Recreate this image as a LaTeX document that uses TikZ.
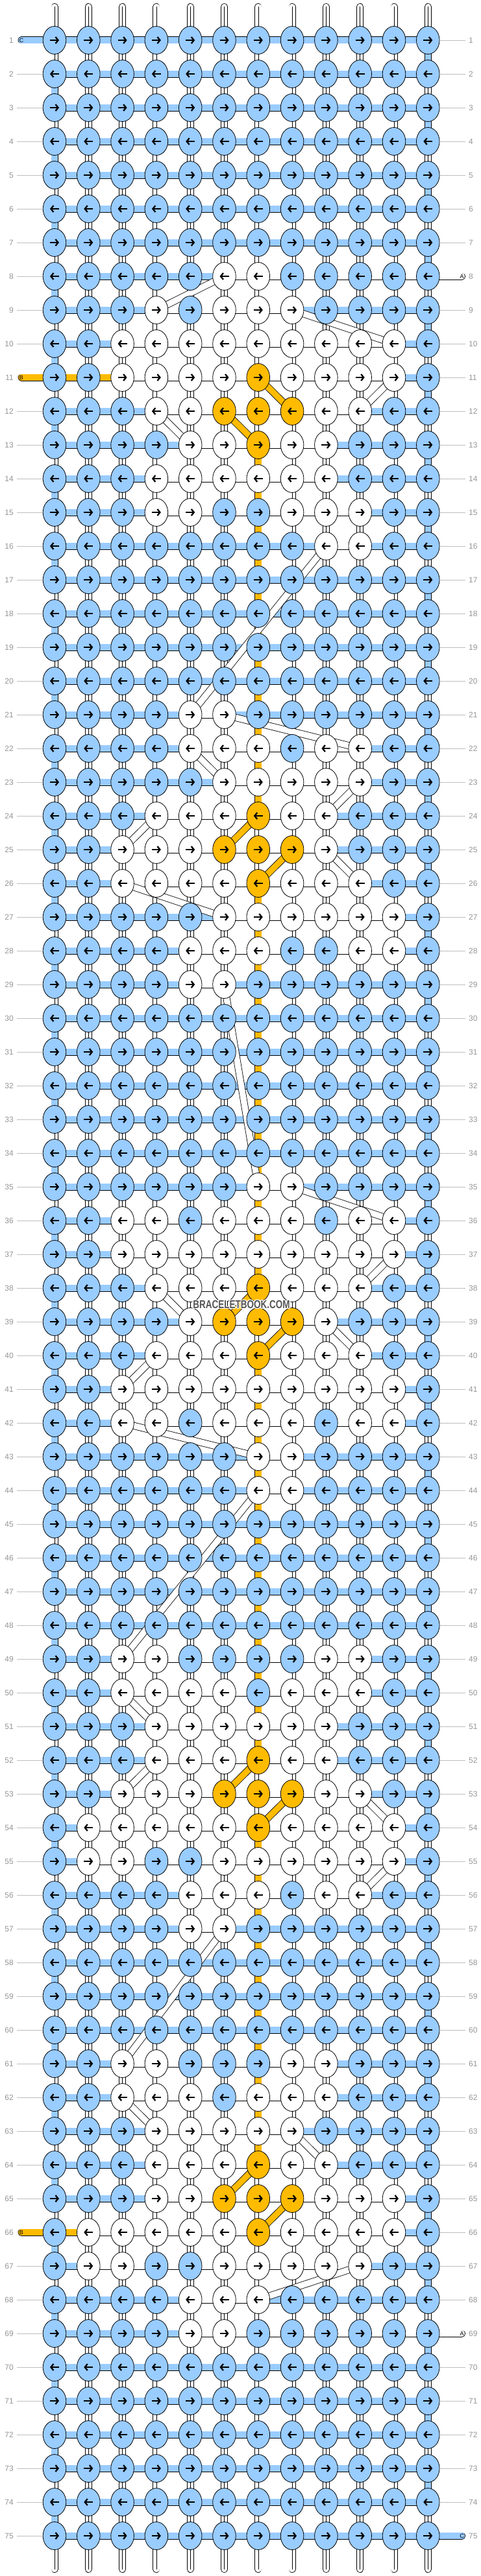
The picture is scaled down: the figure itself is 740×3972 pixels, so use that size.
\documentclass[tikz,border=0pt]{standalone}
\usepackage{fontspec}
\setmainfont{Liberation Sans}
\usepackage{xstring}
\usetikzlibrary{shapes.geometric,arrows.meta}
\definecolor{cb}{RGB}{153,204,255}
\definecolor{cy}{RGB}{255,187,0}
\definecolor{cw}{RGB}{255,255,255}
\definecolor{labgray}{RGB}{150,150,150}
\definecolor{linegray}{RGB}{190,190,190}
\definecolor{wmgray}{RGB}{85,85,85}
\pgfdeclarelayer{bg}
\pgfdeclarelayer{strings}
\pgfdeclarelayer{bars}
\pgfdeclarelayer{bands}
\pgfsetlayers{bg,strings,bars,bands,main}
\begin{document}
\begin{tikzpicture}[x=1pt,y=-1pt,
  knot/.style={ellipse,draw=black,line width=0.8pt,minimum width=35.6pt,minimum height=43pt,inner sep=0pt},
  strand/.style={line width=0.8pt,double distance=9.4pt},
  arr/.style={line width=2.3pt,-{Straight Barb[length=4pt,width=10pt]}},
  rowlab/.style={text=labgray,font=\fontsize{12}{12}\selectfont,inner sep=2pt},
  labline/.style={draw=linegray,line width=0.9pt},
  endlab/.style={font=\fontsize{9}{9}\selectfont,inner sep=0pt},
  wm/.style={font=\bfseries\fontsize{13.5}{13.5}\selectfont,inner sep=0pt}]
\begin{pgfonlayer}{bg}
\fill[white] (0,0) rectangle (740,3972);
\end{pgfonlayer}
\useasboundingbox (0,0) rectangle (740,3972);

% ---------- knots, arrows, horizontal bars, row labels ----------
\foreach \r/\row/\smin/\smax in {
1/bbbbbbbbbbbb/0/0, 2/bbbbbbbbbbbb/0/0, 3/bbbbbbbbbbbb/0/0, 4/bbbbbbbbbbbb/0/0,
5/bbbbbbbbbbbb/0/0, 6/bbbbbbbbbbbb/0/0, 7/bbbbbbbbbbbb/0/0,
8/bbbbbwwbbbbb/6/13, 9/bbbwbwwwbbbb/4/8, 10/bbwwwwwwwwwb/3/11, 11/bbwwwwywwwwb/3/11,
12/bbbwwyyywwbb/4/10, 13/bbbbwwywwbbb/5/9, 14/bbbwwwwwwbbb/4/9, 15/bbbwwbbwwwbb/4/10,
16/bbbbbbbbwwbb/9/10, 17/bbbbbbbbbbbb/0/0, 18/bbbbbbbbbbbb/0/0, 19/bbbbbbbbbbbb/0/0,
20/bbbbbbbbbbbb/0/0, 21/bbbbwwbbbbbb/5/6, 22/bbbbwwwbwwbb/5/10, 23/bbbbbwwwwwbb/6/10,
24/bbbwwwywwbbb/4/9, 25/bbwwwyyywbbb/3/9, 26/bbwwwwywwwbb/3/10, 27/bbbbbwwwwwwb/6/11,
28/bbbbwwwbbwwb/5/11, 29/bbbbwwbbbbbb/5/6, 30/bbbbbbbbbbbb/0/0, 31/bbbbbbbbbbbb/0/0,
32/bbbbbbbbbbbb/0/0, 33/bbbbbbbbbbbb/0/0, 34/bbbbbbbbbbbb/0/0, 35/bbbbbbwwbbbb/7/8,
36/bbwwbwwwbwwb/3/11, 37/bbwwwwwwwwwb/3/11, 38/bbbwwwywwwbb/4/10, 39/bbbbwyyywbbb/5/9,
40/bbbwwwywwwbb/4/10, 41/bbwwwwwwwwwb/3/11, 42/bbwwbwwwbwwb/3/11, 43/bbbbbbwwbbbb/7/8,
44/bbbbbbwwbbbb/7/8, 45/bbbbbbbbbbbb/0/0, 46/bbbbbbbbbbbb/0/0, 47/bbbbbbbbbbbb/0/0,
48/bbbbbbbbbbbb/0/0, 49/bbwwbbbbwwbb/3/10, 50/bbwwwwbwwwbb/3/10, 51/bbbwwwwwwbbb/4/9,
52/bbbwwwywwbbb/4/9, 53/bbwwwyyywwbb/3/10, 54/bwwwwwywwwwb/2/11, 55/bwwbbwwwwwwb/2/11,
56/bbbbwwwbwwbb/5/10, 57/bbbbwwbbbbbb/5/6, 58/bbbbbbbbbbbb/0/0, 59/bbbbbbbbbbbb/0/0,
60/bbbbbbbbbbbb/0/0, 61/bbwwbbbwwbbb/3/9, 62/bbwwwbwwwbbb/3/9, 63/bbbwwwwwbbbb/4/8,
64/bbbwwwywwbbb/4/9, 65/bbbwwyyywwwb/4/11, 66/bwwwwwywwwwb/2/11, 67/bwwbbwwwwwbb/2/10,
68/bbbbwwwbbbbb/5/7, 69/bbbbwwbbbbbb/5/13, 70/bbbbbbbbbbbb/0/0, 71/bbbbbbbbbbbb/0/0,
72/bbbbbbbbbbbb/0/0, 73/bbbbbbbbbbbb/0/0, 74/bbbbbbbbbbbb/0/0, 75/bbbbbbbbbbbb/0/0}{
  \pgfmathsetmacro\yy{62+52*(\r-1)}
  \foreach \c in {1,...,12}{
    \StrChar{\row}{\c}[\k]
    \pgfmathsetmacro\xx{84+52.3*(\c-1)}
    \node[knot,fill=c\k] (k-\r-\c) at (\xx,\yy) {};
    \ifodd\r
      \draw[arr] ([xshift=-7pt]k-\r-\c.center) -- ([xshift=7pt]k-\r-\c.center);
    \else
      \draw[arr] ([xshift=7pt]k-\r-\c.center) -- ([xshift=-7pt]k-\r-\c.center);
    \fi
  }
  \begin{pgfonlayer}{bars}
  \foreach \c in {1,...,11}{
    \pgfmathtruncatemacro\cn{\c+1}
    \pgfmathtruncatemacro\isw{(\c>=\smin)&&(\c+1<=\smax)}
    \pgfmathtruncatemacro\isy{((\r==11)&&(\c<=2))||((\r==66)&&(\c==1))}
    \ifnum\isy=1 \def\bc{cy}\else\ifnum\isw=1 \def\bc{cw}\else\def\bc{cb}\fi\fi
    \draw[strand,double=\bc] (k-\r-\c.center) -- (k-\r-\cn.center);
  }
  \end{pgfonlayer}
  \node[rowlab,anchor=east] (L-\r) at (23,\yy) {\r};
  \node[rowlab,anchor=west] (R-\r) at (720,\yy) {\r};
  \begin{pgfonlayer}{bars}
  \pgfmathtruncatemacro\hasL{(\r==1)||(\r==11)||(\r==66)}
  \pgfmathtruncatemacro\hasR{(\r==8)||(\r==69)||(\r==75)}
  \ifnum\hasL=0 \draw[labline,shorten <=3pt] (L-\r) -- (k-\r-1); \fi
  \ifnum\hasR=0 \draw[labline,shorten >=3pt] (k-\r-12) -- (R-\r); \fi
  \end{pgfonlayer}
}

% ---------- vertical strings ----------
\begin{pgfonlayer}{strings}
\foreach \c in {1,...,12}{
  \pgfmathsetmacro\xx{84+52.3*(\c-1)}
  \coordinate (t-\c) at (\xx,10.5);
  \coordinate (b-\c) at (\xx,3961.5);
  \draw[strand,double=cw,line cap=round] (t-\c) -- (k-1-\c.center);
  \draw[line width=0.6pt] (t-\c) -- (k-1-\c.center);
  \draw[strand,double=cw,line cap=round] (k-75-\c.center) -- (b-\c);
  \draw[line width=0.6pt] (k-75-\c.center) -- (b-\c);
}
\foreach \r in {1,...,74}{
  \pgfmathtruncatemacro\rn{\r+1}
  \foreach \c in {1,...,12}{
    \pgfmathtruncatemacro\vb{((mod(\r,2)==1)&&(\c==12))||((mod(\r,2)==0)&&(\c==1))}
    \pgfmathtruncatemacro\vy{(\c==7)&&(((\r>=13)&&(\r<=23))||((\r>=26)&&(\r<=37))||((\r>=40)&&(\r<=51))||((\r>=54)&&(\r<=63)))}
    \ifnum\vb=1
      \draw[strand,double=cb] (k-\r-\c.center) -- (k-\rn-\c.center);
    \else\ifnum\vy=1
      \draw[strand,double=cy] (k-\r-\c.center) -- (k-\rn-\c.center);
    \else
      \draw[strand,double=cw] (k-\r-\c.center) -- (k-\rn-\c.center);
      \draw[line width=0.6pt] (k-\r-\c.center) -- (k-\rn-\c.center);
    \fi\fi
  }}
\end{pgfonlayer}

% ---------- carried strings (bands) ----------
\begin{pgfonlayer}{bands}
\foreach \a/\b in {8-6/9-4, 9-8/10-11, 11-11/12-10, 12-4/13-5, 16-9/21-5, 21-6/22-10,
  22-5/23-6, 23-10/24-9, 24-4/25-3, 25-9/26-10, 26-3/27-6, 29-6/35-7, 35-8/36-11,
  37-11/38-10, 38-4/39-5, 39-9/40-10, 40-4/41-3, 42-3/43-7, 44-7/49-3, 50-3/51-4,
  52-4/53-3, 53-10/54-11, 55-11/56-10, 57-6/61-3, 62-3/63-4, 63-8/64-9, 67-10/68-7}
  \draw[strand,double=cw] (k-\a.center) -- (k-\b.center);
\foreach \a/\b in {11-7/12-8, 12-6/13-7, 24-7/25-6, 25-8/26-7, 38-7/39-6, 39-8/40-7,
  52-7/53-6, 53-8/54-7, 64-7/65-6, 65-8/66-7}
  \draw[strand,double=cy] (k-\a.center) -- (k-\b.center);
\end{pgfonlayer}

% ---------- string ends at the edges ----------
\coordinate (eL-1) at (33,62);
\coordinate (eL-11) at (33,582);
\coordinate (eL-66) at (33,3442);
\coordinate (eR-8) at (711.5,426);
\coordinate (eR-69) at (711.5,3598);
\coordinate (eR-75) at (711.5,3910);
\begin{pgfonlayer}{bars}
\draw[strand,double=cb,line cap=round] (eL-1) -- (k-1-1.center);
\draw[strand,double=cy,line cap=round] (eL-11) -- (k-11-1.center);
\draw[strand,double=cy,line cap=round] (eL-66) -- (k-66-1.center);
\draw[strand,double=cw,line cap=round] (k-8-12.center) -- (eR-8);
\draw[strand,double=cw,line cap=round] (k-69-12.center) -- (eR-69);
\draw[strand,double=cb,line cap=round] (k-75-12.center) -- (eR-75);
\end{pgfonlayer}
\node[endlab] (nC1) at (eL-1) {C};
\node[endlab] (nB1) at (eL-11) {B};
\node[endlab] (nB2) at (eL-66) {B};
\node[endlab] (nA1) at (eR-8) {A};
\node[endlab] (nA2) at (eR-69) {A};
\node[endlab] (nC2) at (eR-75) {C};

% ---------- watermark ----------
\foreach \dx/\dy in {-1/0,1/0,0/-1,0/1,-1/-1,1/1,-1/1,1/-1,-1.5/0,1.5/0}
  \node[wm,text=white] at (372+\dx,2011.5+\dy) {\scalebox{1}[1.3]{BRACELETBOOK.COM}};
\node[wm,text=wmgray] (wmark) at (372,2011.5) {\scalebox{1}[1.3]{BRACELETBOOK.COM}};
\end{tikzpicture}
\end{document}
